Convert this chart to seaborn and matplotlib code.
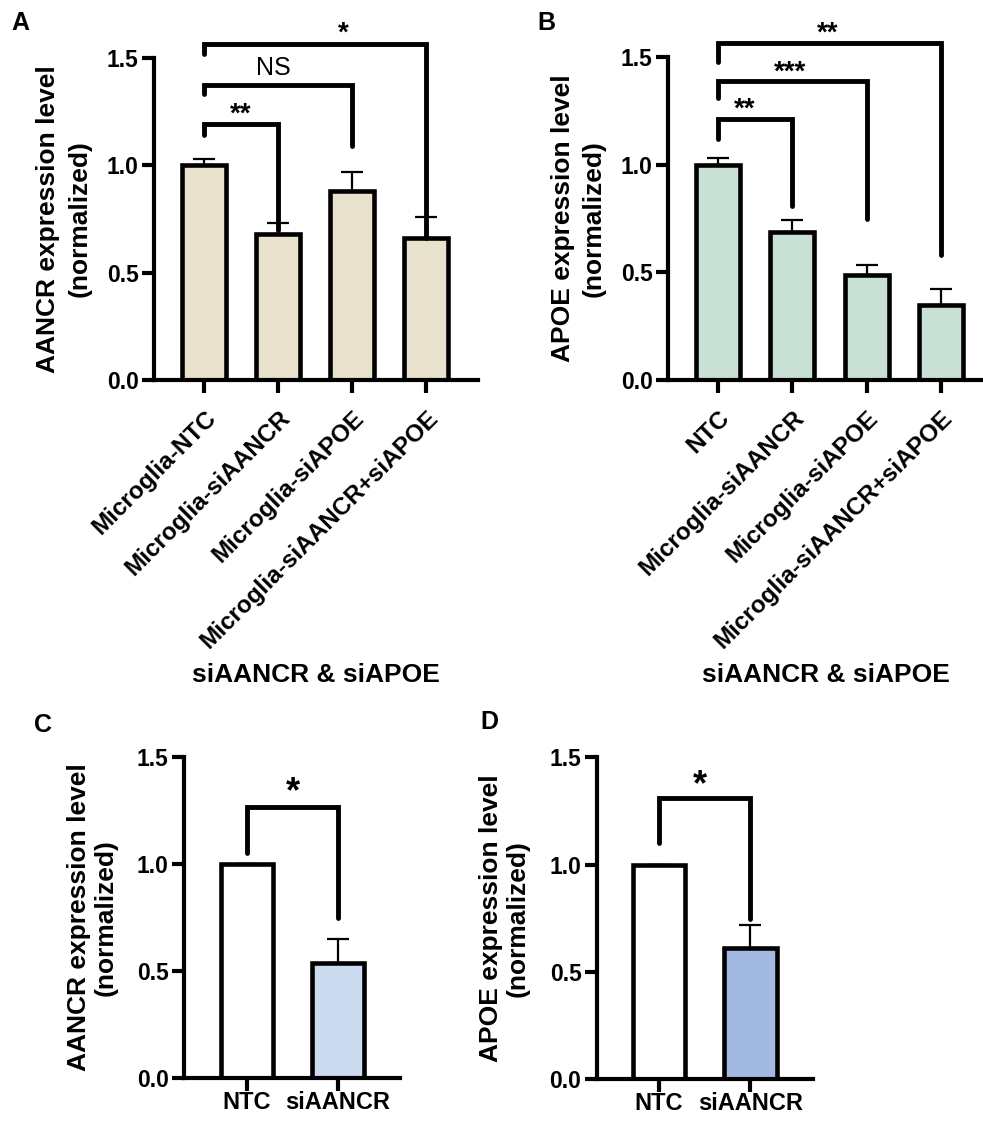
import numpy as np
import pandas as pd
import matplotlib
matplotlib.use("Agg")
import matplotlib.pyplot as plt
from matplotlib.ticker import FormatStrFormatter
import seaborn as sns

# ---------------- data ----------------
cats_A = ["Microglia-NTC", "Microglia-siAANCR", "Microglia-siAPOE", "Microglia-siAANCR+siAPOE"]
mean_A = [1.00, 0.68, 0.88, 0.66]
err_A = [0.03, 0.05, 0.09, 0.10]

cats_B = ["NTC", "Microglia-siAANCR", "Microglia-siAPOE", "Microglia-siAANCR+siAPOE"]
mean_B = [1.00, 0.69, 0.49, 0.35]
err_B = [0.03, 0.055, 0.045, 0.075]

cats_C = ["NTC", "siAANCR"]
mean_C = [1.00, 0.54]
err_C = [0.0, 0.11]

cats_D = ["NTC", "siAANCR"]
mean_D = [1.00, 0.61]
err_D = [0.0, 0.11]

ylabel_A = "AANCR expression level\n(normalized)"
ylabel_B = "APOE expression level\n(normalized)"
xlabel_AB = "siAANCR & siAPOE"

# significance annotations: (group1, group2, label)
sig_A = [(0, 1, "**"), (0, 2, "NS"), (0, 3, "*")]
sig_B = [(0, 1, "**"), (0, 2, "***"), (0, 3, "**")]
sig_C = [(0, 1, "*")]
sig_D = [(0, 1, "*")]

# ---------------- style ----------------
sns.set_theme(style="ticks")
plt.rcParams["font.family"] = ["Liberation Sans", "DejaVu Sans"]
plt.rcParams.update({
    "axes.linewidth": 3,
    "text.color": "black",
    "axes.labelcolor": "black",
    "axes.edgecolor": "black",
    "xtick.color": "black",
    "ytick.color": "black",
})

col_A = "#E8E2CC"
col_B = "#C8E1D4"
col_C = ["#FFFFFF", "#CCDBF0"]
col_D = ["#FFFFFF", "#A2B9E1"]

W, H = 983, 1123
fig = plt.figure(figsize=(W / 100, H / 100), dpi=100)


def px_axes(x0, x1, y_top, y_bot):
    return fig.add_axes([x0 / W, 1 - y_bot / H, (x1 - x0) / W, (y_bot - y_top) / H])


axA = px_axes(154, 478, 57.7, 380)
axB = px_axes(668, 983, 57.3, 380)
axC = px_axes(184, 400, 756.7, 1078.3)
axD = px_axes(596.7, 813, 757.3, 1079.3)


def draw(ax, cats, means, errs, colors, xlim, width):
    df = pd.DataFrame({"cat": cats, "val": means})
    sns.barplot(data=df, x="cat", y="val", hue="cat", palette=colors, legend=False,
                ax=ax, width=width, edgecolor="black", linewidth=3.3,
                errorbar=None, saturation=1)
    xs = np.arange(len(cats))
    ax.errorbar(xs, means, yerr=[np.zeros(len(errs)), errs], fmt="none",
                ecolor="black", elinewidth=1.6, capsize=8, capthick=1.6, zorder=1)
    ax.set_ylim(0, 1.5)
    ax.set_xlim(*xlim)
    ax.set_yticks([0, 0.5, 1.0, 1.5])
    ax.yaxis.set_major_formatter(FormatStrFormatter("%.1f"))
    sns.despine(ax=ax)
    ax.spines["left"].set_linewidth(3)
    ax.spines["bottom"].set_linewidth(3)
    ax.tick_params(axis="both", width=3, length=9, direction="out", pad=2,
                   colors="black")
    for lab in ax.get_yticklabels():
        lab.set_fontsize(16.5)
        lab.set_fontweight("bold")
    ax.set_xlabel("")
    ax.set_ylabel("")


def bracket(ax, x1, x2, top, yl, yr, text, tx, ty, fs, fw):
    ax.plot([x1, x1, x2, x2], [yl, top, top, yr], color="black", lw=3.5,
            solid_capstyle="round", solid_joinstyle="miter", clip_on=False, zorder=5)
    ax.text(tx, ty, text, ha="center", va="center", fontsize=fs, fontweight=fw,
            clip_on=False)


draw(axA, cats_A, mean_A, err_A, [col_A] * 4, (-0.676, 3.70), 0.59)
draw(axB, cats_B, mean_B, err_B, [col_B] * 4, (-0.673, 3.567), 0.59)
draw(axC, cats_C, mean_C, err_C, col_C, (-0.692, 1.681), 0.58)
draw(axD, cats_D, mean_D, err_D, col_D, (-0.685, 1.69), 0.58)

# rotated tick labels for A and B
for ax in (axA, axB):
    ax.set_xticks(range(4))
    ax.set_xticklabels(ax.get_xticklabels(), rotation=45, ha="right", va="top",
                       rotation_mode="anchor", fontsize=17.5, fontweight="bold")
    ax.tick_params(axis="x", pad=10)
    ax.set_xlabel(xlabel_AB, fontsize=19, fontweight="bold", labelpad=7)

for ax in (axC, axD):
    ax.tick_params(axis="x", pad=0.5)
    for lab in ax.get_xticklabels():
        lab.set_fontsize(17)
        lab.set_fontweight("bold")

axA.set_ylabel(ylabel_A, fontsize=19, fontweight="bold", labelpad=11, linespacing=1.38)
axB.set_ylabel(ylabel_B, fontsize=19, fontweight="bold", labelpad=11, linespacing=1.33)
axC.set_ylabel(ylabel_A, fontsize=19, fontweight="bold", labelpad=14, linespacing=1.15)
axD.set_ylabel(ylabel_B, fontsize=19, fontweight="bold", labelpad=14, linespacing=1.15)

# brackets: (top, left-leg end, right-leg end, text x, text y)
geomA = [(1.19, 1.14, 0.70, 0.49, 1.235), (1.375, 1.33, 1.09, 0.93, 1.45), (1.565, 1.515, 0.66, 1.88, 1.61)]
for (g1, g2, t), (top, yl, yr, tx, ty) in zip(sig_A, geomA):
    fw = "normal" if t == "NS" else "bold"
    fs = 18 if t == "NS" else 20
    bracket(axA, g1, g2, top, yl, yr, t, tx, ty, fs, fw)
geomB = [(1.215, 1.12, 0.81, 0.36, 1.255), (1.39, 1.31, 0.75, 0.97, 1.43), (1.565, 1.48, 0.58, 1.48, 1.61)]
for (g1, g2, t), (top, yl, yr, tx, ty) in zip(sig_B, geomB):
    bracket(axB, g1, g2, top, yl, yr, t, tx, ty, 20, "bold")
for (g1, g2, t) in sig_C:
    bracket(axC, g1, g2, 1.265, 1.05, 0.75, t, 0.5, 1.33, 26, "bold")
for (g1, g2, t) in sig_D:
    bracket(axD, g1, g2, 1.31, 1.10, 0.745, t, 0.45, 1.37, 26, "bold")

# panel letters
for lab, x, y in [("A", 20, 23), ("B", 546, 23), ("C", 43, 725), ("D", 489, 722)]:
    fig.text(x / W, 1 - y / H, lab, fontsize=18, fontweight="bold", ha="center", va="center")

fig.savefig("out.png", dpi=100, facecolor="white")
